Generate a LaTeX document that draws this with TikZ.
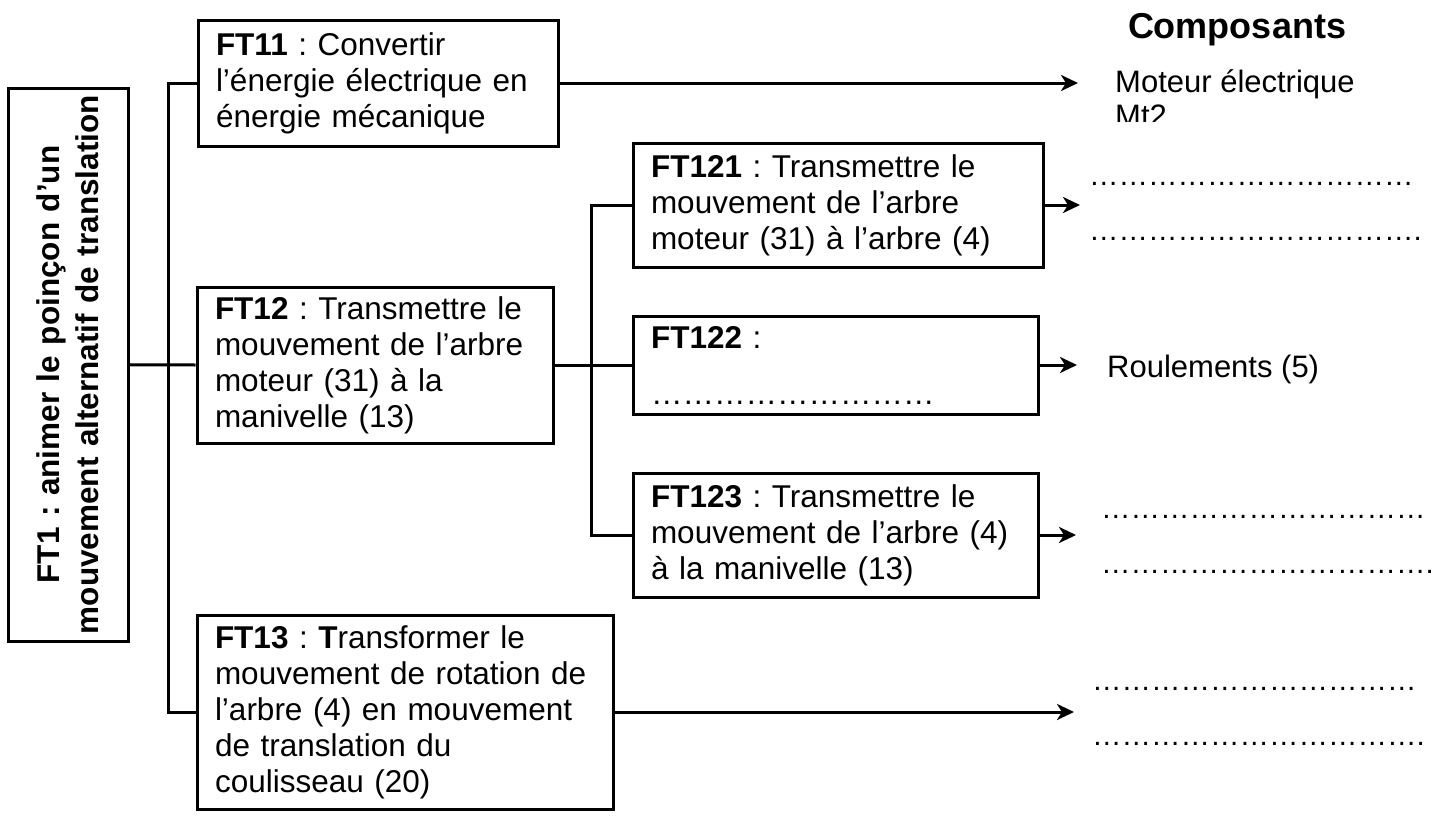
\documentclass[tikz,border=0pt]{standalone}
\usepackage{fontspec}
\setmainfont{Liberation Sans}
\usetikzlibrary{arrows.meta}
\frenchspacing
\newcommand\bxf{\fontsize{31.5}{36}\selectfont\frenchspacing}
\newcommand\ftonef{\fontsize{31.5}{39}\selectfont\bfseries\frenchspacing}
\newcommand\lbf{\fontsize{31}{36}\selectfont}
\newcommand\dtf{\fontsize{29.5}{36}\selectfont}
\newcommand\hdf{\fontsize{36}{40}\selectfont\bfseries}
\newcommand\el{…}
\newcommand\dotsA{\el\el\el\el\el\el\el\el\el\el\el}
\newcommand\dotsB{\el\el\el\el\el\el\el\el\el}
\begin{document}
\begin{tikzpicture}[x=1pt,y=-1pt,
  fbox/.style={draw, line width=3pt, rectangle, inner xsep=18pt, inner ysep=0pt, align=left, font=\bxf},
  wire/.style={line width=3pt},
  arr/.style={line width=3pt, -{Stealth[length=17pt,width=16pt,inset=5pt]}},
  lbl/.style={anchor=base west, inner sep=0pt, font=\lbf},
  dotl/.style={anchor=base west, inner sep=0pt, font=\dtf}]
\useasboundingbox (0,0) rectangle (1437,819);
\fill[white] (0,0) rectangle (1437,819);

% main function
\node[draw, line width=3pt, rotate=90, minimum width=553pt, minimum height=120pt, inner sep=0pt,
      text width=545pt, align=center, font=\ftonef] (ft1) at (68,364.5)
      {FT1 : animer le poinçon d’un\\mouvement alternatif de translation};

% level 1 boxes
\node[fbox, text width=324pt, minimum height=126pt] (ft11) at (378,83)
  {\textbf{FT11} : Convertir\\l’énergie électrique en\\énergie mécanique};
\node[fbox, text width=320pt, minimum height=156pt] (ft12) at (375,365)
  {\textbf{FT12} : Transmettre le\\mouvement de l’arbre\\moteur (31) à la\\manivelle (13)};
\node[fbox, text width=380pt, minimum height=194pt] (ft13) at (405,712)
  {\textbf{FT13} : \textbf{T}ransformer le\\mouvement de rotation de\\l’arbre (4) en mouvement\\de translation du\\coulisseau (20)};

% level 2 boxes
\node[fbox, text width=374pt, minimum height=124pt] (ft121) at (838,205)
  {\textbf{FT121} : Transmettre le\\mouvement de l’arbre\\moteur (31) à l’arbre (4)};
\node[fbox, text width=369pt, minimum height=98pt] (ft122) at (835.5,365)
  {\textbf{FT122} :\\[20pt]\dotsB};
\node[fbox, text width=369pt, minimum height=124pt] (ft123) at (835.5,535)
  {\textbf{FT123} : Transmettre le\\mouvement de l’arbre (4)\\à la manivelle (13)};

% trunk coordinates
\coordinate (t1) at (168,83);
\coordinate (t2) at (168,712);
\coordinate (s1) at (591,205);
\coordinate (s2) at (591,535);

\draw[wire] (ft11.west) -- (t1) -- (t2) -- (ft13.west);
\draw[wire] (ft1) -- (ft12.west);
\draw[wire] (ft121.west) -- (s1) -- (s2) -- (ft123.west);
\draw[wire] (ft12.east) -- (ft122.west);

% arrow ends
\coordinate (e11) at (1078,83);
\coordinate (e121) at (1080,205);
\coordinate (e122) at (1077,365);
\coordinate (e123) at (1076,535);
\coordinate (e13) at (1074,712);
\draw[arr] (ft11.east) -- (e11);
\draw[arr] (ft121.east) -- (e121);
\draw[arr] (ft122.east) -- (e122);
\draw[arr] (ft123.east) -- (e123);
\draw[arr] (ft13.east) -- (e13);

% components column
\node[anchor=base, inner sep=0pt, font=\hdf] (hd) at (1237,38) {Composants};
\begin{scope}
  \clip (1090,40) rectangle (1437,121);
  \node[lbl] (c11a) at (1115,92) {Moteur électrique};
  \node[lbl] (c11b) at (1115,126) {Mt2};
\end{scope}
\node[lbl] (c122) at (1107,377) {Roulements (5)};

\node[dotl] (d121a) at (1089,185) {\dotsA};
\node[dotl] (d121b) at (1089,240) {\dotsA.};
\node[dotl] (d123a) at (1101,518) {\dotsA};
\node[dotl] (d123b) at (1101,573) {\dotsA.};
\node[dotl] (d13a) at (1092,690) {\dotsA};
\node[dotl] (d13b) at (1092,745) {\dotsA.};
\end{tikzpicture}
\end{document}
